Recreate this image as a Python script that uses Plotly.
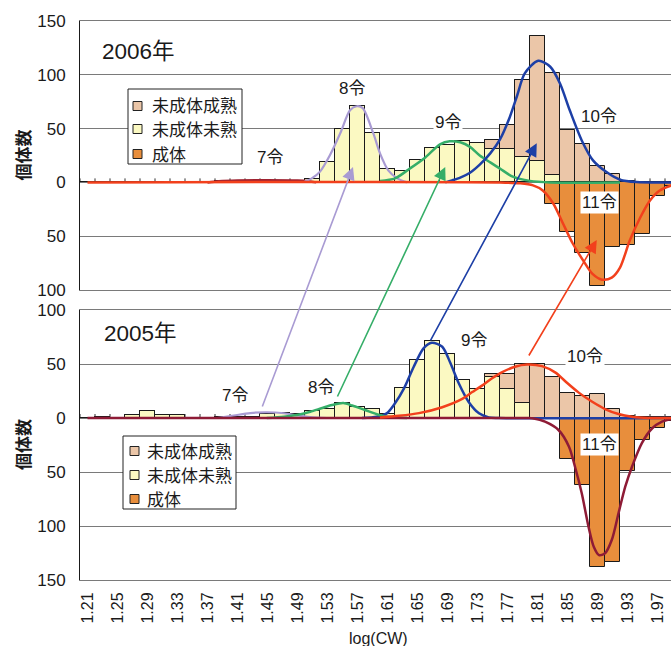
import plotly.graph_objects as go

# ---------------- data ----------------
# log(CW) class centres (class width 0.02)
log_cw = [1.21, 1.23, 1.25, 1.27, 1.29, 1.31, 1.33, 1.35, 1.37, 1.39,
          1.41, 1.43, 1.45, 1.47, 1.49, 1.51, 1.53, 1.55, 1.57, 1.59,
          1.61, 1.63, 1.65, 1.67, 1.69, 1.71, 1.73, 1.75, 1.77, 1.79,
          1.81, 1.83, 1.85, 1.87, 1.89, 1.91, 1.93, 1.95, 1.97, 1.99]
x_tick_labels = ["1.21", "1.25", "1.29", "1.33", "1.37", "1.41", "1.45", "1.49",
                 "1.53", "1.57", "1.61", "1.65", "1.69", "1.73", "1.77", "1.81",
                 "1.85", "1.89", "1.93", "1.97"]
top_count_ticks = [-100, -50, 0, 50, 100, 150]
bottom_count_ticks = [-150, -100, -50, 0, 50, 100]

series_names = ["未成体成熟", "未成体未熟", "成体"]
year_labels = ["2006年", "2005年"]
instar_names = ["7令", "8令", "9令", "10令", "11令"]

# 2006 counts per class
immature_2006 = [0, 0, 0, 0, 0, 0, 0, 0, 0, 1,
                 1.5, 1.5, 1.5, 1.5, 1, 3.5, 19, 50, 71, 46,
                 12, 11, 20.5, 32, 35, 38.5, 36.5, 31, 31, 24,
                 19.5, 7, 0, 0, 0, 0, 0, 0, 0, 0]
mature_2006 = [0, 0, 0, 0, 0, 0, 0, 0, 0, 0,
               0, 0, 0, 0, 0, 0, 0, 0, 0, 0,
               0, 0, 0, 0, 0, 0, 0, 8, 22.5, 71,
               116.5, 95, 49, 36, 15, 8, 1, 0, 0, 0]
adult_2006 = [0, 0, 0, 0, 0, 0, 0, 0, 0, 0,
              0, 0, 0, 0, 0, 0, 0, 0, 0, 0,
              0, 0, 0, 0, 0, 0, 0, 0, 0, 0,
              0, 20, 46, 66, 96, 60, 58.5, 48, 12.5, 3]

# 2005 counts per class
immature_2005 = [0, 1, 0, 3, 6.5, 3, 3, 0, 0, 0.5,
                 1, 1, 4, 4.5, 4, 6.5, 8, 14, 10, 8,
                 4, 28, 54, 71, 59, 35, 26.5, 38, 26.5, 13.5,
                 0, 0, 0, 0, 0, 0, 0, 0, 0, 0]
mature_2005 = [0, 0, 0, 0, 0, 0, 0, 0, 0, 0,
               0, 0, 0, 0, 0, 0, 0, 0, 0, 0,
               0, 0, 0, 0, 0, 0, 0, 3, 14, 36.5,
               50, 38, 23, 20, 22, 8.5, 1.5, 0.5, 0.5, 1]
adult_2005 = [0, 0, 0, 0, 0, 0, 0, 0, 0, 0,
              0, 0, 0, 0, 0, 0, 0, 0, 0, 0,
              0, 0, 0, 0, 0, 0, 0, 0, 0, 0,
              0, 0, 38, 62, 138, 133, 49, 20, 9.5, 3]

# fitted instar components, 2006 (adults plotted downward)
i7_2006_x = [1.37, 1.385, 1.41, 1.45, 1.49, 1.505, 1.515]
i7_2006_y = [0, 1.0, 1.7, 2.0, 1.7, 1.0, 0]
i8_2006_x = [1.499, 1.509, 1.52, 1.533, 1.547, 1.56, 1.569, 1.577, 1.591, 1.60, 1.611, 1.623, 1.636]
i8_2006_y = [0.5, 3.7, 10, 25, 45.7, 67, 70.8, 69, 45.7, 27, 11.2, 3.7, 0]
i9_2006_x = [1.60, 1.62, 1.64, 1.66, 1.68, 1.693, 1.707, 1.72, 1.733, 1.747, 1.76, 1.777, 1.80, 1.827, 1.92]
i9_2006_y = [1.4, 3.7, 13, 23, 35.4, 38.2, 37.3, 33, 25, 18.6, 12.8, 5.3, 1.4, 0, 0]
i10_2006_x = [1.687, 1.696, 1.707, 1.72, 1.733, 1.747, 1.76, 1.773, 1.783, 1.793, 1.811,
              1.827, 1.84, 1.853, 1.869, 1.884, 1.902, 1.92, 1.942, 1.99]
i10_2006_y = [0, 1.9, 4.5, 9, 16.5, 27, 40, 60.6, 81, 101.3, 113,
              107.5, 92, 67, 39, 20.5, 9.6, 2.5, 0.3, 0]
i11_2006_x = [1.21, 1.76, 1.787, 1.804, 1.817, 1.831, 1.844, 1.857, 1.871, 1.883, 1.896,
              1.909, 1.92, 1.933, 1.947, 1.96, 1.973, 1.99]
i11_2006_y = [0, 0, -0.9, -2.8, -7.5, -19.6, -38.2, -56.8, -72.7, -84.8, -90.4,
              -88.5, -79.2, -54, -32.6, -16.8, -7.5, -2.5]

# fitted instar components, 2005
i7_2005_x = [1.383, 1.405, 1.427, 1.449, 1.472, 1.489, 1.507, 1.529]
i7_2005_y = [0, 2.3, 4.6, 5.3, 4.4, 2.5, 0.9, 0]
i8_2005_x = [1.449, 1.472, 1.489, 1.507, 1.523, 1.536, 1.551, 1.563, 1.58, 1.599, 1.616, 1.636]
i8_2005_y = [0, 1.2, 2.8, 5.8, 9.3, 12, 13.9, 11.6, 7.4, 2.8, 0.6, 0]
i9_2005_x = [1.576, 1.596, 1.609, 1.620, 1.632, 1.645, 1.658, 1.669, 1.683, 1.694, 1.705,
             1.718, 1.732, 1.745, 1.758, 1.99]
i9_2005_y = [0, 1.2, 4.3, 13.6, 27.5, 47.5, 64.5, 69.7, 66, 50.6, 32.1,
             15.1, 4.3, 0.6, 0, 0]
i10_2005_x = [1.60, 1.625, 1.652, 1.683, 1.709, 1.723, 1.736, 1.749, 1.763, 1.780, 1.796,
              1.816, 1.834, 1.847, 1.865, 1.883, 1.900, 1.918, 1.936, 1.958, 1.99]
i10_2005_y = [0.5, 2, 4.5, 10, 17.5, 24, 30, 36.5, 42.5, 47.5, 49.5,
              48, 42, 34, 23.5, 15, 8.3, 3.7, 1.2, 0, 0]
i11_2005_x = [1.21, 1.799, 1.803, 1.820, 1.838, 1.852, 1.860, 1.869, 1.878, 1.885, 1.892,
              1.900, 1.909, 1.918, 1.927, 1.936, 1.949, 1.963, 1.976, 1.99]
i11_2005_y = [0, 0, -0.3, -3.4, -11.1, -26.6, -45.1, -69.7, -100.6, -119.2, -126.9,
              -125.3, -113, -88.2, -63.6, -45.1, -23.4, -9.5, -3.4, -0.9]

# cohort arrows: (x, count) in 2005 panel -> (x, count) in 2006 panel
arrow_from_2005 = [(1.445, 9.3), (1.545, 18.5), (1.669, 70.4), (1.800, 56.5)]
arrow_to_2006 = [(1.564, 14.3), (1.687, 14.3), (1.809, 36.3), (1.889, -53.5)]

# label anchors in data units: (x, count)
instar_pos_2006 = [(1.4533, 22.7), (1.5627, 87.7), (1.6907, 56), (1.892, 60.8), (1.892, -19.1)]
instar_pos_2005 = [(1.4067, 21.3), (1.5213, 28.7), (1.7253, 72.2), (1.8733, 56.5), (1.8927, -24.5)]

# ---------------- styling / geometry ----------------
W, H = 671, 646
ML, MR, MT, MB = 80, 0, 21, 66
PW, PH = W - ML - MR, H - MT - MB
X0, X1 = 1.20, 1.20 + PW / 750.0
TOP_DOM, BOT_DOM = [0.5188, 1.0], [0.0, 0.483]
TOP_RNG, BOT_RNG = [-100, 150], [-150, 100]

C_MATURE, C_IMMATURE, C_ADULT = "#EBC6A8", "#FBF9C2", "#E88E3C"
C_LAV, C_GRN, C_BLU, C_RED, C_MAR, C_DRK = "#A99BD3", "#35AE68", "#1D3FA6", "#F2401C", "#8E1B36", "#9E2230"
NUM_FONT = "Liberation Sans, Arial, Noto Sans CJK JP, sans-serif"
JP_FONT = "Noto Sans CJK JP, sans-serif"


def px_x(x):
    return ML + (x - X0) / (X1 - X0) * PW


def px_y(v, dom, rng):
    bottom = MT + (1 - dom[0]) * PH
    return bottom - (v - rng[0]) / (rng[1] - rng[0]) * (dom[1] - dom[0]) * PH


def paper_x(px):
    return (px - ML) / PW


def paper_y(py):
    return (MT + PH - py) / PH


fig = go.Figure()

panels = [
    ("x", "y", immature_2006, mature_2006, adult_2006),
    ("x2", "y2", immature_2005, mature_2005, adult_2005),
]
for xa, ya, imm, mat, adu in panels:
    for name, vals, col in [(series_names[1], imm, C_IMMATURE),
                            (series_names[0], mat, C_MATURE),
                            (series_names[2], [-v for v in adu], C_ADULT)]:
        fig.add_trace(go.Bar(x=log_cw, y=vals, width=0.02, name=name,
                             marker=dict(color=col, line=dict(color="#1a1a1a", width=1)),
                             xaxis=xa, yaxis=ya, showlegend=False))

curves_2006 = [(i7_2006_x, i7_2006_y, C_DRK, 2.5), (i8_2006_x, i8_2006_y, C_LAV, 2.2),
               (i9_2006_x, i9_2006_y, C_GRN, 2.5), (i10_2006_x, i10_2006_y, C_BLU, 2.5),
               (i11_2006_x, i11_2006_y, C_RED, 2.5)]
curves_2005 = [(i9_2005_x, i9_2005_y, C_BLU, 2.5), (i7_2005_x, i7_2005_y, C_LAV, 2.2),
               (i8_2005_x, i8_2005_y, C_GRN, 2.5), (i11_2005_x, i11_2005_y, C_MAR, 2.5),
               (i10_2005_x, i10_2005_y, C_RED, 2.5)]
for xa, ya, curves in [("x", "y", curves_2006), ("x2", "y2", curves_2005)]:
    for cx, cy, col, w in curves:
        fig.add_trace(go.Scatter(x=cx, y=cy, mode="lines", xaxis=xa, yaxis=ya,
                                 line=dict(color=col, width=w, shape="spline", smoothing=0.8),
                                 showlegend=False, hoverinfo="skip"))

shapes = []
annotations = []

# small category ticks along the zero line
edges = [c - 0.01 for c in log_cw] + [log_cw[-1] + 0.01]
for yref in ["y", "y2"]:
    for e in edges:
        shapes.append(dict(type="line", xref="x", yref=yref, x0=e, x1=e,
                           ysizemode="pixel", yanchor=0, y0=0, y1=4,
                           line=dict(color="#333", width=1), layer="below"))

# in-plot legends
legend_specs = [
    ((128, 89, 242, 164), [106, 129, 154], 133, 150),
    ((123, 436, 236, 509), [451, 475, 499], 130, 145),
]
for (bx0, by0, bx1, by1), rows, sq_x, tx in legend_specs:
    shapes.append(dict(type="rect", xref="paper", yref="paper",
                       x0=paper_x(bx0), x1=paper_x(bx1), y0=paper_y(by1), y1=paper_y(by0),
                       fillcolor="white", line=dict(color="#222", width=1), layer="above"))
    for name, col, ry in zip(series_names, [C_MATURE, C_IMMATURE, C_ADULT], rows):
        shapes.append(dict(type="rect", xref="paper", yref="paper",
                           x0=paper_x(sq_x), x1=paper_x(sq_x + 9),
                           y0=paper_y(ry + 4.5), y1=paper_y(ry - 4.5),
                           fillcolor=col, line=dict(color="#222", width=1), layer="above"))
        annotations.append(dict(xref="paper", yref="paper", x=paper_x(tx), y=paper_y(ry - 1),
                                xanchor="left", yanchor="middle", showarrow=False, text=name,
                                font=dict(family=JP_FONT, size=17, color="#1a1a1a")))

# year captions
for label, ya, (yx, yv) in [(year_labels[0], "y", (1.2267, 121.2)),
                            (year_labels[1], "y2", (1.2293, 78.7))]:
    annotations.append(dict(xref="x", yref=ya, x=yx, y=yv, xanchor="left", yanchor="middle",
                            showarrow=False, text=label,
                            font=dict(family=NUM_FONT, size=22.5, color="#1a1a1a")))

# instar labels
for ya, positions in [("y", instar_pos_2006), ("y2", instar_pos_2005)]:
    for name, (lx, lv) in zip(instar_names, positions):
        annotations.append(dict(xref="x", yref=ya, x=lx, y=lv, showarrow=False, text=name,
                                bgcolor="white", borderpad=1,
                                font=dict(family=NUM_FONT, size=17, color="#1a1a1a")))

# cohort growth arrows from 2005 to 2006
for (tx_, tv), (hx, hv), col in zip(arrow_from_2005, arrow_to_2006, [C_LAV, C_GRN, C_BLU, C_RED]):
    ax = px_x(tx_ - 2 / 750.0) - px_x(hx)
    ay = px_y(tv, BOT_DOM, BOT_RNG) - px_y(hv, TOP_DOM, TOP_RNG)
    annotations.append(dict(xref="x", yref="y", x=hx, y=hv, axref="pixel", ayref="pixel",
                            ax=ax, ay=ay, text="", showarrow=True, arrowhead=2,
                            arrowsize=1.6, arrowwidth=1.6, arrowcolor=col, standoff=0))

# axis titles
for dom in [TOP_DOM, BOT_DOM]:
    annotations.append(dict(xref="paper", yref="paper", x=paper_x(22), y=(dom[0] + dom[1]) / 2,
                            xanchor="center", yanchor="middle", textangle=-90, showarrow=False,
                            text="<b>個体数</b>", font=dict(family=JP_FONT, size=17, color="#1a1a1a")))
annotations.append(dict(xref="paper", yref="paper", x=paper_x(378), y=paper_y(638),
                        xanchor="center", yanchor="middle", showarrow=False, text="log(CW)",
                        font=dict(family=NUM_FONT, size=16, color="#1a1a1a")))

grid = "#7a7a7a"
y_common = dict(showgrid=True, gridcolor=grid, gridwidth=1, zeroline=False, showline=True,
                linecolor="#1a1a1a", linewidth=1, ticks="", ticklabelstandoff=10,
                tickfont=dict(family=NUM_FONT, size=17, color="#1a1a1a"))
x_common = dict(range=[X0, X1], showgrid=False, zeroline=False, showline=True, mirror=True,
                linecolor=grid, linewidth=1, ticks="")

fig.update_layout(
    width=W, height=H, margin=dict(l=ML, r=MR, t=MT, b=MB),
    paper_bgcolor="white", plot_bgcolor="white",
    barmode="relative", bargap=0, showlegend=False,
    xaxis=dict(domain=[0, 1], anchor="y", showticklabels=False, **x_common),
    xaxis2=dict(domain=[0, 1], anchor="y2", matches="x", tickmode="array",
                tickvals=[float(t) for t in x_tick_labels], ticktext=x_tick_labels,
                tickangle=-90, ticklabelstandoff=5,
                tickfont=dict(family=NUM_FONT, size=16, color="#1a1a1a"), **x_common),
    yaxis=dict(domain=TOP_DOM, anchor="x", range=TOP_RNG, tickmode="array",
               tickvals=top_count_ticks, ticktext=[str(abs(v)) for v in top_count_ticks], **y_common),
    yaxis2=dict(domain=BOT_DOM, anchor="x2", range=BOT_RNG, tickmode="array",
                tickvals=bottom_count_ticks, ticktext=[str(abs(v)) for v in bottom_count_ticks], **y_common),
    shapes=shapes, annotations=annotations,
)

fig.write_html("out.html")
